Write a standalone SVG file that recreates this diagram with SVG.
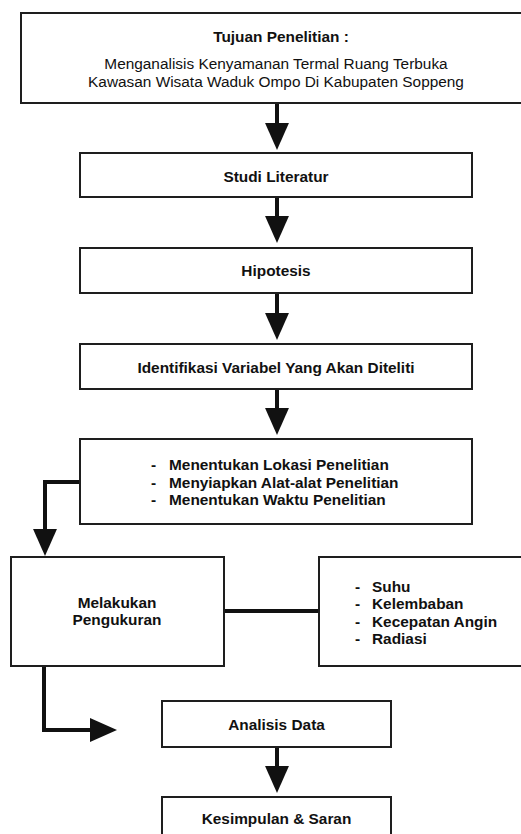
<svg xmlns="http://www.w3.org/2000/svg" width="521" height="834" viewBox="0 0 521 834">
<style>
.box{fill:#fff;stroke:#1e1e1e;stroke-width:2}
.t{font-family:"Liberation Sans",Arial,sans-serif;font-size:15.4px;fill:#111}
.b{font-weight:bold}
.m{text-anchor:middle}
.con{fill:none;stroke:#111;stroke-width:4}
</style>
<defs>
<marker id="ah" markerUnits="userSpaceOnUse" markerWidth="27" markerHeight="24" refX="0" refY="11.5" orient="auto" viewBox="0 0 26 23">
<path d="M0,0 L26,11.5 L0,23 Z" fill="#111"/>
</marker>
</defs>
<rect width="521" height="834" fill="#fff"/>
<g id="connectors">
<path class="con" d="M277,103 V123" marker-end="url(#ah)"/>
<path class="con" d="M277,197 V216" marker-end="url(#ah)"/>
<path class="con" d="M277,293 V313" marker-end="url(#ah)"/>
<path class="con" d="M277,389 V408" marker-end="url(#ah)"/>
<path class="con" d="M80,482 H45 V529" marker-end="url(#ah)"/>
<path class="con" d="M224,611 H319"/>
<path class="con" d="M44,666 V730 H90" marker-end="url(#ah)"/>
<path class="con" d="M277,747 V766" marker-end="url(#ah)"/>
</g>
<g id="tujuan">
<rect class="box" x="21" y="13" width="510" height="90"/>
<text class="t b m" x="281" y="41.5">Tujuan Penelitian :</text>
<text class="t m" x="276" y="68.5">Menganalisis Kenyamanan Termal Ruang Terbuka</text>
<text class="t m" x="276" y="86.5">Kawasan Wisata Waduk Ompo Di Kabupaten Soppeng</text>
</g>
<g id="studi">
<rect class="box" x="80" y="153" width="392" height="44"/>
<text class="t b m" x="276" y="181.5">Studi Literatur</text>
</g>
<g id="hipotesis">
<rect class="box" x="80" y="248" width="392" height="45"/>
<text class="t b m" x="276" y="276">Hipotesis</text>
</g>
<g id="identifikasi">
<rect class="box" x="80" y="344" width="392" height="45"/>
<text class="t b m" x="276" y="372.5">Identifikasi Variabel Yang Akan Diteliti</text>
</g>
<g id="persiapan">
<rect class="box" x="80" y="439" width="392" height="85"/>
<text class="t b" x="151" y="470">-</text><text class="t b" x="169" y="470">Menentukan Lokasi Penelitian</text>
<text class="t b" x="151" y="487.5">-</text><text class="t b" x="169" y="487.5">Menyiapkan Alat-alat Penelitian</text>
<text class="t b" x="151" y="505">-</text><text class="t b" x="169" y="505">Menentukan Waktu Penelitian</text>
</g>
<g id="pengukuran">
<rect class="box" x="11" y="557" width="213" height="109"/>
<text class="t b m" x="117" y="607.5">Melakukan</text>
<text class="t b m" x="117" y="625">Pengukuran</text>
</g>
<g id="variabel">
<rect class="box" x="319" y="557" width="212" height="109"/>
<text class="t b" x="355" y="591.5">-</text><text class="t b" x="372" y="591.5">Suhu</text>
<text class="t b" x="355" y="609">-</text><text class="t b" x="372" y="609">Kelembaban</text>
<text class="t b" x="355" y="626.5">-</text><text class="t b" x="372" y="626.5">Kecepatan Angin</text>
<text class="t b" x="355" y="644">-</text><text class="t b" x="372" y="644">Radiasi</text>
</g>
<g id="analisis">
<rect class="box" x="162" y="701" width="229" height="46"/>
<text class="t b m" x="276.5" y="730">Analisis Data</text>
</g>
<g id="kesimpulan">
<rect class="box" x="162" y="797" width="229" height="48"/>
<text class="t b m" x="276.5" y="824">Kesimpulan &amp; Saran</text>
</g>
</svg>
